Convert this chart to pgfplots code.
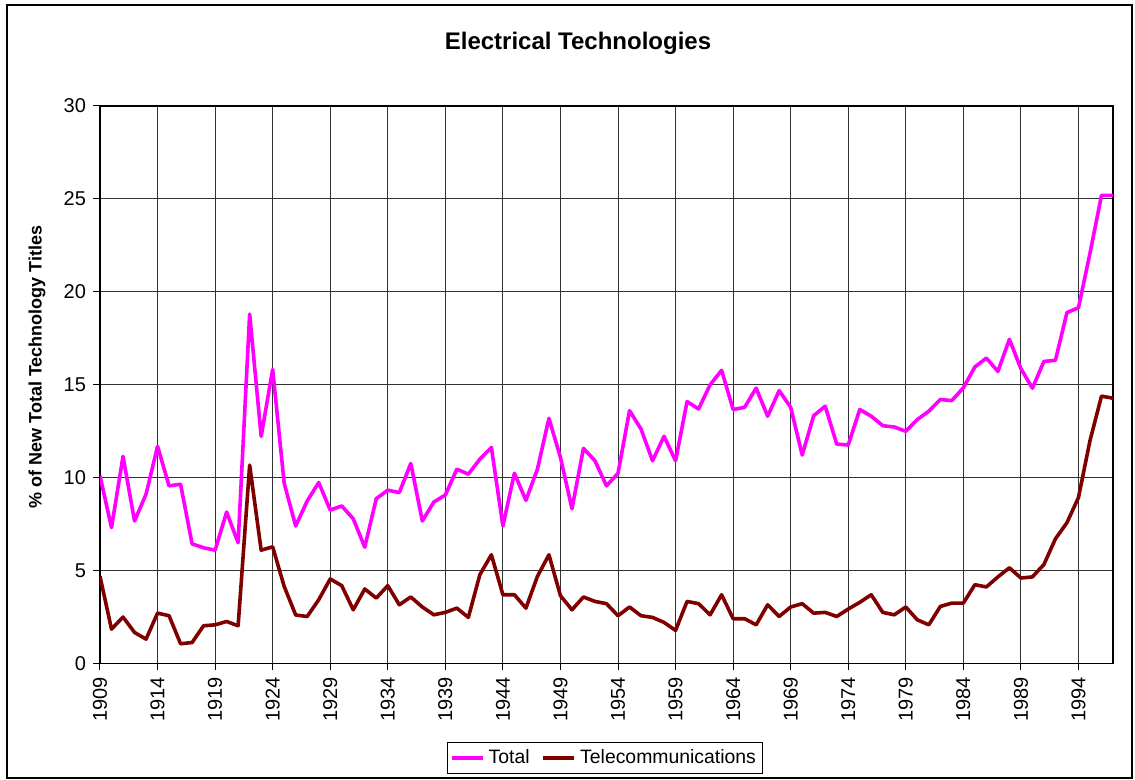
\documentclass[border=0pt]{standalone}
\usepackage{pgfplots}
\usepackage{pgfplotstable}
\usepackage{fontspec}
\setmainfont{Liberation Sans}
\pgfplotsset{compat=1.18}
\definecolor{totc}{RGB}{255,0,255}
\definecolor{telc}{RGB}{128,0,0}
\pgfplotstableread{
year total tele
1909 10.09 4.68
1910 7.30 1.84
1911 11.14 2.49
1912 7.66 1.66
1913 9.10 1.30
1914 11.68 2.70
1915 9.55 2.56
1916 9.64 1.05
1917 6.43 1.12
1918 6.22 2.02
1919 6.09 2.07
1920 8.14 2.25
1921 6.49 2.02
1922 18.80 10.67
1923 12.22 6.09
1924 15.82 6.27
1925 9.69 4.14
1926 7.39 2.60
1927 8.74 2.52
1928 9.73 3.42
1929 8.25 4.54
1930 8.47 4.18
1931 7.78 2.88
1932 6.25 4.00
1933 8.86 3.51
1934 9.32 4.18
1935 9.19 3.15
1936 10.76 3.57
1937 7.66 3.03
1938 8.68 2.61
1939 9.06 2.74
1940 10.45 2.97
1941 10.18 2.47
1942 10.99 4.77
1943 11.62 5.84
1944 7.39 3.69
1945 10.23 3.69
1946 8.77 2.97
1947 10.45 4.68
1948 13.19 5.84
1949 11.08 3.64
1950 8.32 2.88
1951 11.57 3.57
1952 10.90 3.33
1953 9.55 3.21
1954 10.23 2.56
1955 13.60 3.03
1956 12.61 2.56
1957 10.90 2.47
1958 12.22 2.20
1959 10.90 1.77
1960 14.09 3.33
1961 13.69 3.21
1962 14.99 2.61
1963 15.77 3.69
1964 13.66 2.40
1965 13.78 2.40
1966 14.81 2.07
1967 13.30 3.15
1968 14.68 2.52
1969 13.78 3.03
1970 11.21 3.21
1971 13.33 2.70
1972 13.84 2.74
1973 11.80 2.52
1974 11.75 2.92
1975 13.66 3.28
1976 13.30 3.69
1977 12.79 2.74
1978 12.72 2.61
1979 12.49 3.03
1980 13.12 2.34
1981 13.57 2.07
1982 14.20 3.06
1983 14.14 3.24
1984 14.83 3.24
1985 15.95 4.23
1986 16.43 4.11
1987 15.71 4.65
1988 17.44 5.14
1989 15.86 4.59
1990 14.81 4.65
1991 16.25 5.32
1992 16.31 6.70
1993 18.88 7.57
1994 19.14 8.92
1995 22.07 11.98
1996 25.19 14.38
1997 25.19 14.27
}\datatable
\begin{document}
\begin{tikzpicture}
\path (-50pt,-58.35pt) rectangle (517.5pt,331.65pt);
\draw[line width=0.6pt] (-46.5pt,-57.35pt) rectangle (516pt,329.15pt);
\begin{axis}[
  at={(0pt,0pt)}, anchor=south west,
  scale only axis, width=506.5pt, height=278.65pt,
  xmin=1909, xmax=1997, ymin=0, ymax=30,
  xtick={1909,1914,...,1994}, ytick={0,5,...,30},
  /pgf/number format/1000 sep={},
  /pgf/number format/assume math mode=true,
  tick label style={font=\fontsize{10}{12}\selectfont},
  xticklabel style={rotate=90, anchor=east},
  xtick pos=bottom, ytick pos=left,
  tick align=outside, major tick length=3.5pt,
  tick style={black, line width=0.5pt},
  grid=major, grid style={black!80, line width=0.5pt},
  axis line style={black, line width=0.6pt},
  legend columns=2,
  legend style={at={(0.4985,-0.17)}, anchor=center, draw=black, line width=0.5pt,
    font=\fontsize{9.7}{11}\selectfont, inner sep=1.5pt,
    /tikz/every even column/.append style={column sep=4pt}},
  legend image code/.code={\draw[#1] (0pt,0pt) -- (15.5pt,0pt);},
]
\addplot[totc, line width=1.8pt, line join=round] table[x=year, y=total] {\datatable};
\addlegendentry{Total}
\addplot[telc, line width=1.8pt, line join=round] table[x=year, y=tele] {\datatable};
\addlegendentry{Telecommunications}
\end{axis}
\node[font=\fontsize{12}{14}\selectfont\bfseries] at (239pt,310.15pt) {Electrical Technologies};
\node[rotate=90, font=\fontsize{9}{11}\selectfont\bfseries] at (-31.5pt,148.2pt) {\% of New Total Technology Titles};
\end{tikzpicture}
\end{document}
